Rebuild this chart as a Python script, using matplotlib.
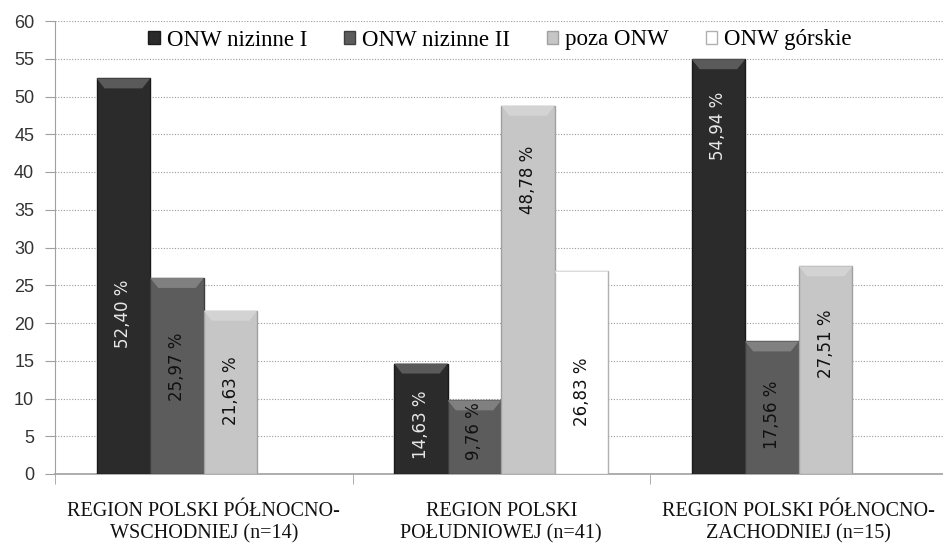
import matplotlib
matplotlib.use("Agg")
import matplotlib.pyplot as plt
import numpy as np
from matplotlib.patches import Patch, Polygon
from matplotlib.colors import to_rgb

categories = ["REGION POLSKI PÓŁNOCNO-\nWSCHODNIEJ (n=14)",
              "REGION POLSKI\nPOŁUDNIOWEJ (n=41)",
              "REGION POLSKI PÓŁNOCNO-\nZACHODNIEJ (n=15)"]
series = ["ONW nizinne I", "ONW nizinne II", "poza ONW", "ONW górskie"]
nizinne_I = [52.40, 14.63, 54.94]
nizinne_II = [25.97, 9.76, 17.56]
poza_ONW = [21.63, 48.78, 27.51]
gorskie = [np.nan, 26.83, np.nan]
values = [nizinne_I, nizinne_II, poza_ONW, gorskie]
labels = [["52,40 %", "14,63 %", "54,94 %"],
          ["25,97 %", "9,76 %", "17,56 %"],
          ["21,63 %", "48,78 %", "27,51 %"],
          ["", "26,83 %", ""]]
# label centre heights (data units)
label_y = [[21.2, 6.5, 46.1],
           [14.2, 5.7, 7.9],
           [11.1, 38.9, 17.2],
           [np.nan, 10.9, np.nan]]
yticks = list(range(0, 61, 5))

colors = ["#2b2b2b", "#5c5c5c", "#c6c6c6", "#ffffff"]
edges = ["#1a1a1a", "#3e3e3e", "#a0a0a0", "#b0b0b0"]
txtcol = ["#e8e8e8", "#111111", "#111111", "#111111"]

W, H = 943, 544
fig = plt.figure(figsize=(W / 100, H / 100), dpi=100)
ax_w, ax_h = 892.5, 453
ax = fig.add_axes([55 / W, (H - 474) / H, ax_w / W, ax_h / H])

ax.set_xlim(-0.5, len(categories) - 0.5)
ax.set_ylim(0, 60)
px_x = (len(categories)) / ax_w
px_y = 60 / ax_h


def lighten(c, f):
    r = np.array(to_rgb(c))
    return tuple(r + (1 - r) * f)


x = np.arange(len(categories))
bw = 0.18
for i, vals in enumerate(values):
    xs = x + (i - 1.5) * bw
    bars = ax.bar(xs, vals, width=bw, color=colors[i], edgecolor=edges[i],
                  linewidth=1.0, zorder=3)
    for b in bars:
        h = b.get_height()
        if not np.isfinite(h) or h <= 0:
            continue
        x0, x1 = b.get_x(), b.get_x() + b.get_width()
        d, dy = 8 * px_x, 10 * px_y
        top = Polygon([(x0, h), (x1, h), (x1 - d, h - dy), (x0 + d, h - dy)],
                      closed=True, facecolor=lighten(colors[i], 0.22),
                      edgecolor="none", zorder=3.5)
        ax.add_patch(top)
    for j in range(len(categories)):
        if labels[i][j]:
            ax.text(xs[j], label_y[i][j], labels[i][j], rotation=90,
                    ha="center", va="center", fontsize=12,
                    family="DejaVu Sans", color=txtcol[i], zorder=4)

ax.set_yticks(yticks)
ax.set_yticklabels([str(t) for t in yticks], family="Liberation Sans",
                   fontsize=13, color="#333333")
ax.tick_params(axis="y", length=7, color="#a0a0a0", pad=8)
ax.yaxis.grid(True, linestyle=(0, (1, 1.5)), color="#9a9a9a", linewidth=0.8, zorder=0)
ax.set_axisbelow(True)

ax.set_xticks(x)
ax.set_xticklabels(categories, family="Liberation Serif", fontsize=14.5,
                   color="#111111", linespacing=1.25)
ax.tick_params(axis="x", length=0, pad=20)
ax.set_xticks(np.arange(-0.5, len(categories), 1.0), minor=True)
ax.tick_params(axis="x", which="minor", length=7, color="#a0a0a0")

for s in ["top", "right"]:
    ax.spines[s].set_visible(False)
ax.spines["left"].set_color("#a0a0a0")
ax.spines["bottom"].set_color("#a0a0a0")
ax.spines["bottom"].set_linewidth(1.2)

handles = [Patch(facecolor=colors[i], edgecolor=edges[i]) for i in range(4)]
leg = ax.legend(handles, series, loc="center", bbox_to_anchor=(0.4985, 1 - 19 / ax_h),
                ncol=4, frameon=False, handlelength=0.5, handleheight=0.5,
                handletextpad=0.3, columnspacing=1.6, borderpad=0,
                prop={"family": "Liberation Serif", "size": 16.5})

fig.savefig("out.png", dpi=100)
